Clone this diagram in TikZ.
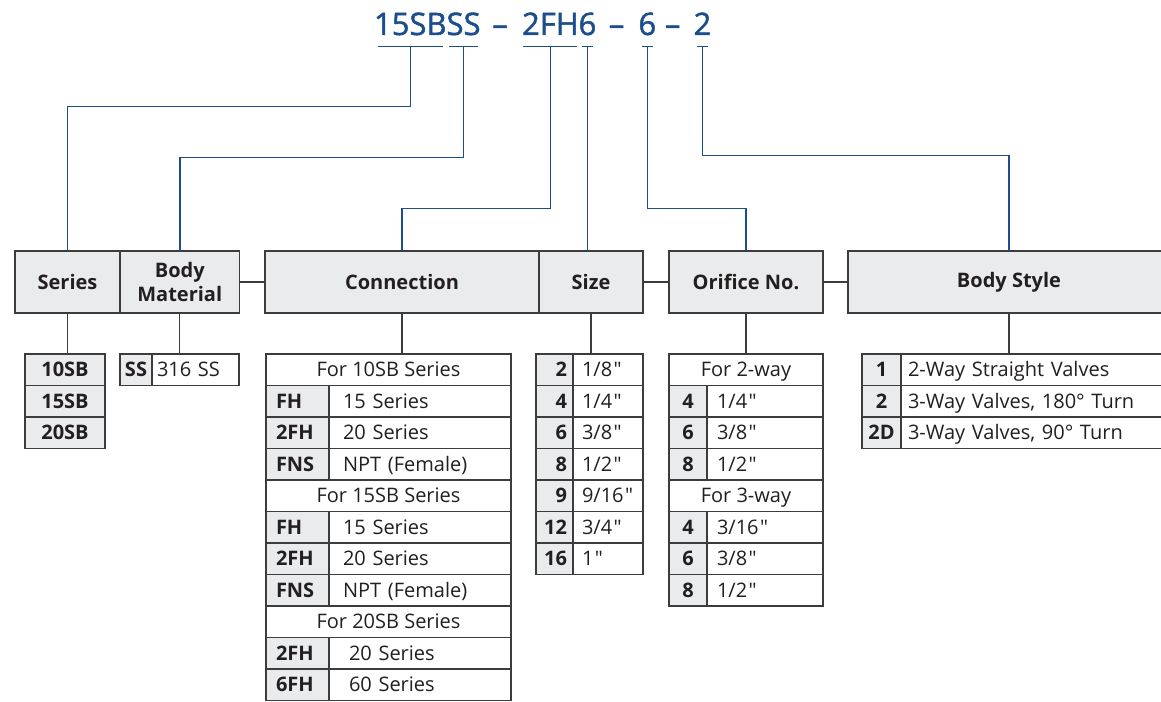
\documentclass[tikz,border=0pt]{standalone}
\usepackage{fontspec}
\setmainfont{Open Sans}[Ligatures=TeXOff]
\IfFontExistsTF{Open Sans SemiBold}
  {\newfontfamily\pnCodeFace{Open Sans SemiBold}}
  {\newfontfamily\pnCodeFace{Open Sans}[FakeBold=1.5]}
\usepackage{tikz}
\usetikzlibrary{positioning}
\definecolor{pnBlue}{HTML}{1C4E8C}
\definecolor{pnInk}{HTML}{231F20}
\definecolor{pnLine}{HTML}{3C3C3C}
\definecolor{pnGray}{HTML}{EAEBEC}
\newcommand{\pnCodeFont}{\pnCodeFace\fontsize{31}{37}\selectfont}
\newcommand{\pnHeadFont}{\fontsize{20}{24}\selectfont\bfseries}
\newcommand{\pnCellFont}{\fontsize{20}{24}\selectfont}
\newcommand{\pnInch}{\kern1.5pt"}
\tikzset{
  pn diagram/.style={x=1pt, y=-1pt, text=pnInk},
  pn code/.style={font=\pnCodeFont, text=pnBlue, inner sep=0pt, outer sep=0pt, anchor=base},
  pn link/.style={draw=pnBlue, line width=1.5pt},
  pn tie/.style={draw=pnLine, line width=1.2pt},
  pn head/.style={draw=pnLine, fill=pnGray, line width=1.2pt, font=\pnHeadFont,
    align=center, minimum height=62pt, inner sep=0pt, outer sep=0pt},
  pn key/.style={draw=pnLine, fill=pnGray, line width=1.2pt, font=\pnCellFont\bfseries,
    minimum height=31.5pt, inner ysep=0pt, text height=17pt, text depth=3pt,
    outer sep=0pt, anchor=north west},
  pn val/.style={pn key, fill=white, font=\pnCellFont},
  pn left/.style={align=left, text width=#1},
  pn right/.style={align=right, text width=#1}
}
\begin{document}
\begin{tikzpicture}[pn diagram]
\useasboundingbox (0,0) rectangle (1161,701);
\clip (0,0) rectangle (1161,701);

% part number
\node[pn code, anchor=base west] (c-series) at (374,35) {15SB};
\node[pn code, base right=0pt of c-series] (c-body) {SS};
\node[pn code] (c-dash1) at (500,35) {\textendash};
\node[pn code, anchor=base west] (c-conn) at (522,35) {2FH};
\node[pn code, base right=0pt of c-conn] (c-size) {6};
\node[pn code] (c-dash2) at (616.5,35) {\textendash};
\node[pn code] (c-orif) at (647.3,35) {6};
\node[pn code] (c-dash3) at (672.7,35) {\textendash};
\node[pn code] (c-style) at (702.5,35) {2};

\coordinate (cap) at (0,46.5);
\foreach \part/\hw in {series/32.5,body/14.5,conn/27,size/5.5,orif/5.5,style/5.5}{
  \coordinate (t-\part) at (c-\part.base |- cap);
  \draw[pn link] ([xshift=-\hw pt]t-\part) -- ([xshift=\hw pt]t-\part);
}

% header boxes
\node[pn head, minimum width=105pt, anchor=north west] (series) at (15,251) {Series};
\node[pn head, minimum width=119.5pt, right=0pt of series] (material) {Body\\Material};
\node[pn head, minimum width=274pt, right=25.5pt of material] (connection) {Connection};
\node[pn head, minimum width=104pt, right=0pt of connection] (size) {Size};
\node[pn head, minimum width=154pt, right=26pt of size] (orifice) {Orifice No.};
\node[pn head, minimum width=322pt, right=25pt of orifice] (bodystyle) {Body Style};

% option tables
\foreach \code [count=\i] in {10SB,15SB,20SB}
  \node[pn key, minimum width=80pt] (ser-\i) at (25,{354+31.5*(\i-1)}) {\code};

\node[pn key, minimum width=32pt] (mat-k) at (120,354) {SS};
\node[pn val, pn left=77pt, inner xsep=5pt, right=0pt of mat-k] (mat-v) {316 SS};

\foreach \k/\txt in {0/For 10SB Series,4/For 15SB Series,8/For 20SB Series}
  \node[pn val, minimum width=245pt] (con-h-\k) at (266,{354+31.5*\k}) {\txt};
\foreach \k/\code/\txt in {1/FH/15 Series,2/2FH/20 Series,3/FNS/NPT (Female),
    5/FH/15 Series,6/2FH/20 Series,7/FNS/NPT (Female),
    9/2FH/\hspace*{6pt}20 Series,10/6FH/\hspace*{6pt}60 Series}{
  \node[pn key, pn left=43pt, inner xsep=10pt] (con-k-\k) at (266,{354+31.5*\k}) {\code};
  \node[pn val, pn left=154pt, inner xsep=14pt, right=0pt of con-k-\k] (con-v-\k) {\txt};
}

\foreach \code/\txt [count=\i] in {2/{1/8\pnInch},4/{1/4\pnInch},6/{3/8\pnInch},8/{1/2\pnInch},
    9/{9/16\pnInch},12/{3/4\pnInch},16/{1\pnInch}}{
  \node[pn key, pn right=25pt, inner xsep=6pt] (siz-k-\i) at (536,{354+31.5*(\i-1)}) {\code};
  \node[pn val, pn left=52pt, inner xsep=9pt, right=0pt of siz-k-\i] (siz-v-\i) {\txt};
}

\foreach \k/\txt in {0/For 2-way,4/For 3-way}
  \node[pn val, minimum width=154pt] (ori-h-\k) at (669,{354+31.5*\k}) {\txt};
\foreach \k/\code/\txt in {1/4/{1/4\pnInch},2/6/{3/8\pnInch},3/8/{1/2\pnInch},
    5/4/{3/16\pnInch},6/6/{3/8\pnInch},7/8/{1/2\pnInch}}{
  \node[pn key, minimum width=38pt] (ori-k-\k) at (669,{354+31.5*\k}) {\code};
  \node[pn val, pn left=96pt, inner xsep=10pt, right=0pt of ori-k-\k] (ori-v-\k) {\txt};
}

\foreach \code/\txt [count=\i] in {1/2-Way Straight Valves,2/{3-Way Valves, 180° Turn},2D/{3-Way Valves, 90° Turn}}{
  \node[pn key, minimum width=39pt] (bst-k-\i) at (862,{354+31.5*(\i-1)}) {\code};
  \node[pn val, pn left=260pt, inner xsep=7pt, right=0pt of bst-k-\i] (bst-v-\i) {\txt};
}

% grey ties
\draw[pn tie] (material.east) -- (connection.west);
\draw[pn tie] (size.east) -- (orifice.west);
\draw[pn tie] (orifice.east) -- (bodystyle.west);
\draw[pn tie] (series.south) -- (series.south |- ser-1.north);
\draw[pn tie] (material.south) -- (material.south |- mat-k.north);
\draw[pn tie] (connection.south) -- (connection.south |- con-h-0.north);
\draw[pn tie] (size.south) -- (size.south |- siz-k-1.north);
\draw[pn tie] (orifice.south) -- (orifice.south |- ori-h-0.north);
\draw[pn tie] (bodystyle.south) -- (bodystyle.south |- bst-k-1.north);

% blue code links
\draw[pn link] (t-series) -- ++(0,60) -| (series.north);
\draw[pn link] (t-body) -- ++(0,111.2) -| (material.north);
\draw[pn link] (t-conn) -- ++(0,161.8) -| (connection.north);
\draw[pn link] (t-size) -- (t-size |- size.north);
\draw[pn link] (t-orif) -- ++(0,161.8) -| (orifice.north);
\draw[pn link] (t-style) -- ++(0,109.2) -| (bodystyle.north);
\end{tikzpicture}
\end{document}
